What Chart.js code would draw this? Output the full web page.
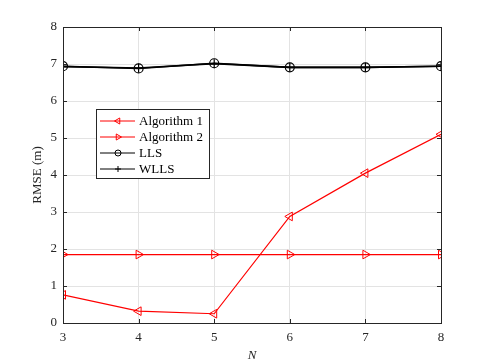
<!DOCTYPE html>
<html>
<head>
<meta charset="utf-8">
<script src="https://cdn.jsdelivr.net/npm/chart.js@4/dist/chart.umd.min.js"></script>
<style>
  body { margin: 0; background: #fff; }
  #wrap { width: 485px; height: 363px; }
</style>
</head>
<body>
<div id="wrap"><canvas id="c"></canvas></div>
<script>
// data
const nValues = [3, 4, 5, 6, 7, 8];
const algorithm1 = [0.76, 0.32, 0.25, 2.88, 4.05, 5.10];
const algorithm2 = [1.85, 1.85, 1.85, 1.85, 1.85, 1.85];
const lls = [6.94, 6.88, 7.02, 6.91, 6.91, 6.94];
const wlls = [6.93, 6.89, 7.01, 6.91, 6.91, 6.94];
const yTicks = [0, 1, 2, 3, 4, 5, 6, 7, 8];

const FONT = '"Liberation Serif", "Times New Roman", serif';
const pts = arr => nValues.map((n, i) => ({ x: n, y: arr[i] }));

// box, inside ticks and legend like MATLAB
const matlabBox = {
  id: 'matlabBox',
  afterDraw(chart) {
    const { ctx, chartArea: a, scales } = chart;
    ctx.save();
    ctx.strokeStyle = '#262626';
    ctx.lineWidth = 1;
    ctx.beginPath();
    nValues.forEach(v => {
      const x = Math.round(scales.x.getPixelForValue(v)) + 0.5;
      ctx.moveTo(x, a.bottom); ctx.lineTo(x, a.bottom - 4);
      ctx.moveTo(x, a.top); ctx.lineTo(x, a.top + 4);
    });
    yTicks.forEach(v => {
      const y = Math.round(scales.y.getPixelForValue(v)) + 0.5;
      ctx.moveTo(a.left, y); ctx.lineTo(a.left + 4, y);
      ctx.moveTo(a.right, y); ctx.lineTo(a.right - 4, y);
    });
    ctx.stroke();
    ctx.strokeRect(Math.round(a.left) + 0.5, Math.round(a.top) + 0.5,
      Math.round(a.right - a.left), Math.round(a.bottom - a.top));

    // legend
    const lx = 96.5, ly = 109.5, lw = 113, lh = 69;
    ctx.fillStyle = '#fff';
    ctx.fillRect(lx, ly, lw, lh);
    ctx.strokeStyle = '#262626';
    ctx.strokeRect(lx, ly, lw, lh);
    const rows = [121, 137, 153, 169];
    chart.data.datasets.forEach((ds, i) => {
      const y = rows[i];
      ctx.strokeStyle = ds.borderColor;
      ctx.lineWidth = 1;
      ctx.beginPath();
      ctx.moveTo(100, y); ctx.lineTo(135, y);
      ctx.stroke();
      ctx.fillStyle = 'rgba(0,0,0,0)';
      Chart.helpers.drawPoint(ctx, {
        pointStyle: ds.pointStyle, radius: ds.pointRadius - 1.5,
        rotation: ds.pointRotation || 0, borderWidth: 1
      }, 118, y);
      ctx.fillStyle = '#000';
      ctx.font = '13px ' + FONT;
      ctx.textBaseline = 'middle';
      ctx.textAlign = 'left';
      ctx.fillText(ds.label, 139, y + 1);
    });
    ctx.restore();
  }
};

new Chart(document.getElementById('c'), {
  type: 'line',
  data: {
    datasets: [
      { label: 'Algorithm 1', data: pts(algorithm1), borderColor: '#ff0000',
        borderWidth: 1.2, pointStyle: 'triangle', pointRotation: -90, pointRadius: 5,
        pointBorderWidth: 1, pointBackgroundColor: 'rgba(0,0,0,0)', pointBorderColor: '#ff0000' },
      { label: 'Algorithm 2', data: pts(algorithm2), borderColor: '#ff0000',
        borderWidth: 1.2, pointStyle: 'triangle', pointRotation: 90, pointRadius: 5,
        pointBorderWidth: 1, pointBackgroundColor: 'rgba(0,0,0,0)', pointBorderColor: '#ff0000' },
      { label: 'LLS', data: pts(lls), borderColor: '#000000',
        borderWidth: 1.6, pointStyle: 'circle', pointRadius: 4.5,
        pointBorderWidth: 1.2, pointBackgroundColor: 'rgba(0,0,0,0)', pointBorderColor: '#000' },
      { label: 'WLLS', data: pts(wlls), borderColor: '#000000',
        borderWidth: 1.6, pointStyle: 'cross', pointRadius: 4.5,
        pointBorderWidth: 1.2, pointBackgroundColor: 'rgba(0,0,0,0)', pointBorderColor: '#000' }
    ]
  },
  options: {
    responsive: true,
    maintainAspectRatio: false,
    animation: false,
    layout: { padding: { top: 27, right: 44, left: 0, bottom: 0 } },
    plugins: { legend: { display: false }, tooltip: { enabled: false } },
    elements: { line: { tension: 0 } },
    scales: {
      x: {
        type: 'linear', min: 3, max: 8,
        afterFit: s => { s.height = 40; },
        afterBuildTicks: s => { s.ticks = nValues.map(v => ({ value: v })); },
        grid: { color: '#e3e3e3', drawTicks: false },
        border: { display: false },
        ticks: { color: '#262626', padding: 7, font: { family: FONT, size: 13 } },
        title: { display: true, text: 'N', color: '#262626', padding: { top: 0, bottom: 0 },
          font: { family: FONT, size: 13, style: 'italic' } }
      },
      y: {
        min: 0, max: 8,
        afterFit: s => { s.width = 63; },
        afterBuildTicks: s => { s.ticks = yTicks.map(v => ({ value: v })); },
        grid: { color: '#e3e3e3', drawTicks: false },
        border: { display: false },
        ticks: { color: '#262626', padding: 6, font: { family: FONT, size: 13 } },
        title: { display: true, text: 'RMSE (m)', color: '#262626', padding: { top: 30, bottom: 4 },
          font: { family: FONT, size: 13 } }
      }
    }
  },
  plugins: [matlabBox]
});
</script>
</body>
</html>
